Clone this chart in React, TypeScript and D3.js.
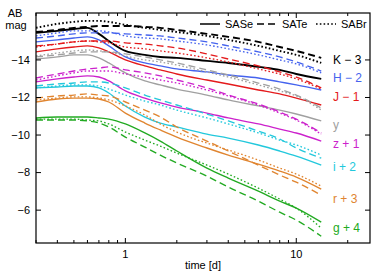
import React, { useEffect, useRef } from 'react';
import * as d3 from 'd3';

// time grid [d] shared by all light curves
const times = [0.3, 0.4, 0.5, 0.6, 0.7, 0.8, 1.0, 1.3, 1.6, 2, 3, 4, 6, 8, 10, 14];

// AB magnitudes (already shifted by the band offset)
const kSASe = [-15.44, -15.55, -15.65, -15.71, -15.39, -15.01, -14.48, -14.27, -14.16, -14.11, -13.95, -13.84, -13.63, -13.47, -13.25, -12.99];
const kSATe = [-15.49, -15.6, -15.71, -15.76, -15.81, -15.81, -15.81, -15.76, -15.71, -15.6, -15.39, -15.23, -14.96, -14.69, -14.48, -14.11];
const kSABr = [-15.71, -15.92, -16.03, -16.08, -16.08, -16.03, -15.87, -15.71, -15.6, -15.49, -15.28, -15.07, -14.75, -14.48, -14.27, -13.84];

const hSASe = [-14.96, -15.07, -15.17, -15.23, -15.07, -14.75, -14.16, -13.84, -13.68, -13.52, -13.36, -13.2, -13.04, -12.83, -12.67, -12.4];
const hSATe = [-15.17, -15.28, -15.39, -15.44, -15.44, -15.44, -15.39, -15.33, -15.28, -15.17, -14.96, -14.75, -14.43, -14.16, -13.89, -13.41];
const hSABr = [-15.28, -15.44, -15.55, -15.55, -15.55, -15.49, -15.28, -15.17, -15.12, -15.01, -14.8, -14.59, -14.27, -14.0, -13.79, -13.31];

const jSASe = [-14.43, -14.59, -14.69, -14.75, -14.64, -14.43, -14.0, -13.68, -13.47, -13.25, -12.93, -12.72, -12.4, -12.19, -11.97, -11.6];
const jSATe = [-14.75, -14.85, -14.96, -15.01, -15.01, -15.01, -14.91, -14.85, -14.75, -14.64, -14.32, -14.05, -13.68, -13.36, -13.09, -12.51];
const jSABr = [-14.69, -14.85, -14.96, -15.01, -14.96, -14.91, -14.69, -14.59, -14.48, -14.37, -14.11, -13.89, -13.52, -13.25, -12.99, -12.45];

const ySASe = [-14.05, -14.16, -14.27, -14.27, -14.11, -13.84, -13.31, -12.88, -12.67, -12.45, -12.13, -11.87, -11.55, -11.33, -11.12, -10.75];
const ySATe = [-14.16, -14.27, -14.37, -14.43, -14.43, -14.43, -14.32, -14.16, -14.0, -13.84, -13.47, -13.2, -12.77, -12.45, -12.13, -11.44];
const ySABr = [-14.21, -14.37, -14.48, -14.53, -14.48, -14.43, -14.21, -14.0, -13.89, -13.73, -13.36, -13.09, -12.67, -12.35, -12.08, -11.33];

const zSASe = [-12.83, -12.99, -13.09, -13.15, -13.09, -12.88, -12.35, -11.97, -11.71, -11.49, -11.17, -10.91, -10.59, -10.32, -10.11, -9.68];
const zSATe = [-13.04, -13.25, -13.41, -13.52, -13.57, -13.63, -13.47, -13.31, -13.15, -12.93, -12.51, -12.13, -11.65, -11.23, -10.85, -10.11];
const zSABr = [-12.93, -13.15, -13.31, -13.41, -13.41, -13.41, -13.25, -13.09, -12.93, -12.77, -12.4, -12.08, -11.6, -11.17, -10.8, -10.05];

const iSASe = [-12.51, -12.56, -12.61, -12.61, -12.51, -12.24, -11.55, -10.96, -10.64, -10.43, -10.05, -9.84, -9.47, -9.15, -8.88, -8.4];
const iSATe = [-12.61, -12.72, -12.77, -12.83, -12.83, -12.77, -12.51, -12.13, -11.87, -11.6, -11.12, -10.75, -10.21, -9.79, -9.31, -8.77];
const iSABr = [-12.51, -12.61, -12.67, -12.67, -12.61, -12.45, -12.13, -11.81, -11.6, -11.33, -10.91, -10.59, -10.11, -9.73, -9.47, -8.93];

const rSASe = [-11.76, -11.92, -11.97, -11.97, -11.92, -11.76, -11.17, -10.64, -10.27, -9.89, -9.31, -8.93, -8.45, -8.08, -7.76, -7.12];
const rSATe = [-11.97, -12.08, -12.13, -12.19, -12.13, -12.08, -11.76, -11.33, -10.96, -10.43, -9.68, -9.15, -8.4, -7.87, -7.49, -6.8];
const rSABr = [-11.87, -11.97, -12.03, -12.03, -11.97, -11.87, -11.55, -11.07, -10.59, -10.16, -9.57, -9.2, -8.67, -8.24, -7.92, -7.28];

const gSASe = [-10.91, -10.96, -10.96, -10.96, -10.91, -10.85, -10.59, -10.11, -9.68, -9.15, -8.24, -7.71, -7.01, -6.48, -6.11, -5.36];
const gSATe = [-10.8, -10.8, -10.8, -10.75, -10.64, -10.43, -9.89, -9.36, -8.93, -8.51, -7.81, -7.23, -6.48, -5.89, -5.47, -4.61];
const gSABr = [-10.85, -10.85, -10.85, -10.8, -10.75, -10.59, -10.16, -9.73, -9.41, -9.04, -8.4, -7.92, -7.17, -6.59, -6.11, -5.04];

// band labels drawn at the right, with the magnitude where they sit
const bandLabels = ['K − 3', 'H − 2', 'J − 1', 'y', 'z + 1', 'i + 2', 'r + 3', 'g + 4'];
const labelMags = [-14.0, -13.05, -12.05, -10.55, -9.55, -8.3, -6.6, -5.05];
const bandColors = ['#000000', '#4563ee', '#e41a1c', '#a0a0a0', '#cc22cc', '#22c8dc', '#e08530', '#22aa22'];

const models = ['SASe', 'SATe', 'SABr'];
const modelDash = [null, '7,4', '1.6,2.2'];

const bandSeries = [
  [kSASe, kSATe, kSABr],
  [hSASe, hSATe, hSABr],
  [jSASe, jSATe, jSABr],
  [ySASe, ySATe, ySABr],
  [zSASe, zSATe, zSABr],
  [iSASe, iSATe, iSABr],
  [rSASe, rSATe, rSABr],
  [gSASe, gSATe, gSABr],
];

const yTicks = [-14, -12, -10, -8, -6];

const App = () => {
  const ref = useRef<SVGSVGElement>(null);
  const svgWidth = 390;
  const svgHeight = 273;
  const left = 36, right = 370, top = 13, bottom = 243;
  const font = "'Liberation Sans', Arial, sans-serif";

  useEffect(() => {
    const svg = d3.select(ref.current);
    svg.selectAll('*').remove();

    const x = d3.scaleLog().domain([0.3, 27]).range([left, right]);
    const y = d3.scaleLinear().domain([-16.5, -4.25]).range([top, bottom]);

    svg.append('defs').append('clipPath').attr('id', 'plot-clip')
      .append('rect')
      .attr('x', left).attr('y', top)
      .attr('width', right - left).attr('height', bottom - top);

    // light curves
    const line = d3.line<number>()
      .x((d, i) => x(times[i]))
      .y(d => y(d))
      .curve(d3.curveMonotoneX);

    const curves = svg.append('g').attr('clip-path', 'url(#plot-clip)');
    bandSeries.forEach((series, b) => {
      series.forEach((vals, m) => {
        curves.append('path')
          .attr('d', line(vals))
          .attr('fill', 'none')
          .attr('stroke', bandColors[b])
          .attr('stroke-width', b === 0 ? 1.9 : 1.35)
          .attr('stroke-dasharray', modelDash[m]);
      });
    });

    // ticks (inward, mirrored like gnuplot)
    const ticks = svg.append('g').attr('stroke', '#000').attr('stroke-width', 1);
    const xMajor = [1, 10];
    const xMinor = x.ticks().filter(t => !xMajor.includes(t));
    xMajor.forEach(t => {
      const px = x(t);
      ticks.append('line').attr('x1', px).attr('x2', px).attr('y1', bottom).attr('y2', bottom - 5);
      ticks.append('line').attr('x1', px).attr('x2', px).attr('y1', top).attr('y2', top + 5);
    });
    xMinor.forEach(t => {
      const px = x(t);
      ticks.append('line').attr('x1', px).attr('x2', px).attr('y1', bottom).attr('y2', bottom - 3);
      ticks.append('line').attr('x1', px).attr('x2', px).attr('y1', top).attr('y2', top + 3);
    });
    yTicks.forEach(v => {
      const py = y(v);
      ticks.append('line').attr('x1', left).attr('x2', left + 5).attr('y1', py).attr('y2', py);
      ticks.append('line').attr('x1', right).attr('x2', right - 5).attr('y1', py).attr('y2', py);
    });

    // frame
    svg.append('rect')
      .attr('x', left).attr('y', top)
      .attr('width', right - left).attr('height', bottom - top)
      .attr('fill', 'none').attr('stroke', '#000').attr('stroke-width', 1.2);

    // tick labels
    const txt = svg.append('g').attr('font-family', font).attr('font-size', 11).attr('fill', '#000');
    yTicks.forEach(v => {
      txt.append('text')
        .attr('x', left - 6).attr('y', y(v)).attr('dy', '0.35em')
        .attr('text-anchor', 'end')
        .text(`−${Math.abs(v)}`);
    });
    xMajor.forEach(t => {
      txt.append('text')
        .attr('x', x(t)).attr('y', bottom + 15)
        .attr('text-anchor', 'middle')
        .text(String(t));
    });
    txt.append('text').attr('x', 203).attr('y', 269).attr('text-anchor', 'middle').text('time [d]');
    txt.append('text').attr('x', 15).attr('y', 17).attr('text-anchor', 'middle').text('AB');
    txt.append('text').attr('x', 16).attr('y', 29).attr('text-anchor', 'middle').text('mag');

    // band labels
    bandLabels.forEach((lab, b) => {
      svg.append('text')
        .attr('x', 333).attr('y', y(labelMags[b])).attr('dy', '0.35em')
        .attr('font-family', font).attr('font-size', 12)
        .attr('fill', bandColors[b])
        .text(lab);
    });

    // legend
    const legX = [200, 257, 316];
    const legY = 24;
    models.forEach((name, m) => {
      svg.append('line')
        .attr('x1', legX[m]).attr('x2', legX[m] + 20)
        .attr('y1', legY).attr('y2', legY)
        .attr('stroke', '#000').attr('stroke-width', 1.5)
        .attr('stroke-dasharray', modelDash[m]);
      svg.append('text')
        .attr('x', legX[m] + 25).attr('y', legY).attr('dy', '0.35em')
        .attr('font-family', font).attr('font-size', 11)
        .text(name);
    });
  }, []);

  return (
    <svg ref={ref} width={svgWidth} height={svgHeight}
      style={{ position: 'absolute', left: 0, top: 0, background: '#fff' }} />
  );
};

export default App;
